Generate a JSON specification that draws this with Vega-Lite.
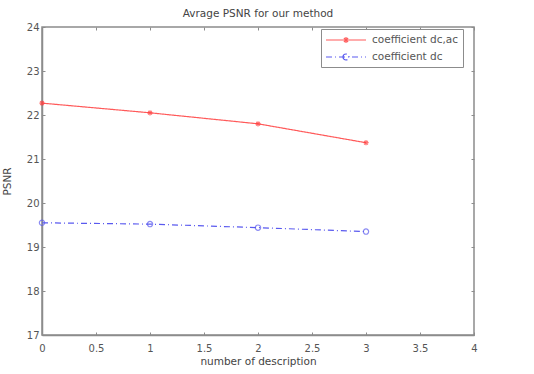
{
  "$schema": "https://vega.github.io/schema/vega-lite/v6.json",
  "width": 432,
  "height": 308,
  "autosize": {"type": "none"},
  "padding": {"left": 42, "top": 27, "right": 60, "bottom": 39},
  "background": "white",
  "title": {
    "text": "Avrage PSNR for our method",
    "fontSize": 10.5,
    "fontWeight": "normal",
    "font": "DejaVu Sans",
    "color": "#444",
    "anchor": "middle",
    "offset": 3
  },
  "config": {
    "view": {"stroke": "#8c8c8c", "strokeWidth": 1.5},
    "axis": {
      "labelFont": "DejaVu Sans",
      "titleFont": "DejaVu Sans",
      "labelFontSize": 10,
      "titleFontSize": 10.5,
      "titleFontWeight": "normal",
      "labelColor": "#555",
      "titleColor": "#444",
      "grid": false,
      "domainColor": "#8c8c8c",
      "domainWidth": 1.5,
      "tickColor": "#8c8c8c",
      "tickSize": -3,
      "tickWidth": 1
    }
  },
  "data": {
    "values": [
      {"desc": 0, "psnr": 22.27, "series": "coefficient dc,ac"},
      {"desc": 1, "psnr": 22.05, "series": "coefficient dc,ac"},
      {"desc": 2, "psnr": 21.8, "series": "coefficient dc,ac"},
      {"desc": 3, "psnr": 21.37, "series": "coefficient dc,ac"},
      {"desc": 0, "psnr": 19.55, "series": "coefficient dc"},
      {"desc": 1, "psnr": 19.52, "series": "coefficient dc"},
      {"desc": 2, "psnr": 19.44, "series": "coefficient dc"},
      {"desc": 3, "psnr": 19.35, "series": "coefficient dc"}
    ]
  },
  "layer": [
    {
      "mark": {"type": "line", "strokeWidth": 1.2},
      "encoding": {
        "x": {
          "field": "desc",
          "type": "quantitative",
          "scale": {"domain": [0, 4], "nice": false},
          "axis": {
            "title": "number of description",
            "values": [0, 0.5, 1, 1.5, 2, 2.5, 3, 3.5, 4],
            "format": "~g",
            "labelPadding": 11,
            "titleY": 21,
            "labelFlush": false
          }
        },
        "y": {
          "field": "psnr",
          "type": "quantitative",
          "scale": {"domain": [17, 24], "nice": false, "zero": false},
          "axis": {
            "title": "PSNR",
            "values": [17, 18, 19, 20, 21, 22, 23, 24],
            "labelPadding": 6,
            "titleX": -30,
            "labelFlush": false
          }
        },
        "color": {
          "field": "series",
          "type": "nominal",
          "scale": {
            "domain": ["coefficient dc,ac", "coefficient dc"],
            "range": ["#ff5a5a", "#5a5aef"]
          },
          "legend": {
            "title": null,
            "orient": "none",
            "legendX": 279,
            "legendY": 2,
            "direction": "vertical",
            "fillColor": "white",
            "strokeColor": "#8c8c8c",
            "padding": 4,
            "rowPadding": 4,
            "labelFont": "DejaVu Sans",
            "labelFontSize": 10.5,
            "labelColor": "#555",
            "labelOffset": 33,
            "symbolSize": 144,
            "symbolStrokeWidth": 1.2,
            "symbolType": "stroke",
            "encode": {
              "symbols": {
                "update": {
                  "shape": {"signal": "datum.value === 'coefficient dc' ? 'M-1,0H5.667M1.833,0A0.5,0.5,0,1,0,2.833,0A0.5,0.5,0,1,0,1.833,0' : 'M-1,0H5.667M1.833,0H2.833M2.333,-0.5V0.5M1.98,-0.35L2.69,0.35M1.98,0.35L2.69,-0.35'"},
                  "strokeDash": {"signal": "datum.value === 'coefficient dc' ? [6,3,1,3] : []"}
                }
              }
            }
          }
        },
        "strokeDash": {
          "field": "series",
          "type": "nominal",
          "scale": {
            "domain": ["coefficient dc,ac", "coefficient dc"],
            "range": [[1, 0], [6, 3, 1, 3]]
          },
          "legend": null
        }
      }
    },
    {
      "mark": {"type": "point", "filled": false, "strokeWidth": 1.2},
      "encoding": {
        "x": {"field": "desc", "type": "quantitative", "axis": null},
        "y": {"field": "psnr", "type": "quantitative", "axis": null},
        "color": {
          "condition": {"test": "datum.series === 'coefficient dc'", "value": "#5a5aef"},
          "value": "#ff3a3a"
        },
        "shape": {
          "condition": {"test": "datum.series === 'coefficient dc'", "value": "circle"},
          "value": "M-1,0H1M0,-1V1M-0.7,-0.7L0.7,0.7M-0.7,0.7L0.7,-0.7"
        },
        "size": {"value": 28}
      }
    },
    {
      "mark": {"type": "point", "opacity": 0},
      "encoding": {
        "x": {
          "field": "desc",
          "type": "quantitative",
          "axis": {
            "orient": "top",
            "title": null,
            "labels": false,
            "domain": false,
            "values": [0, 0.5, 1, 1.5, 2, 2.5, 3, 3.5, 4]
          }
        },
        "y": {
          "field": "psnr",
          "type": "quantitative",
          "axis": {
            "orient": "right",
            "title": null,
            "labels": false,
            "domain": false,
            "values": [17, 18, 19, 20, 21, 22, 23, 24]
          }
        }
      }
    }
  ],
  "resolve": {"axis": {"x": "independent", "y": "independent"}}
}
